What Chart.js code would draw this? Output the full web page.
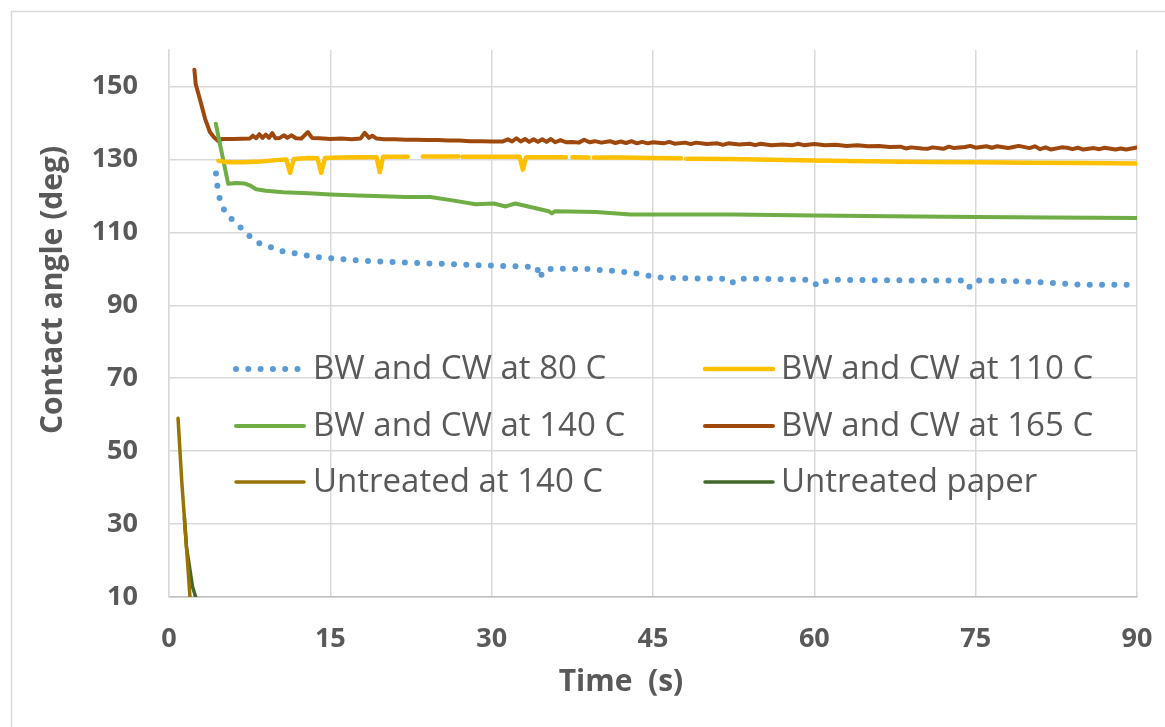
<!DOCTYPE html>
<html>
<head>
<meta charset="utf-8">
<script src="https://cdn.jsdelivr.net/npm/chart.js@4.4.1/dist/chart.umd.min.js"></script>
<style>
  html, body { margin: 0; padding: 0; background: #fff; }
  canvas { display: block; }
</style>
</head>
<body>
<canvas id="angleChart" width="1165" height="727"></canvas>
<script>
// axis ticks
const timeTicks = [0, 15, 30, 45, 60, 75, 90];
const angleTicks = [10, 30, 50, 70, 90, 110, 130, 150];

const seriesNames = [
    'BW and CW at 80 C', 'BW and CW at 110 C',
    'BW and CW at 140 C', 'BW and CW at 165 C',
    'Untreated at 140 C', 'Untreated paper'
];

// BW and CW at 80 C
const t80 = [4.37, 4.5, 4.7, 5.1, 5.8, 6.6, 7.4, 8.3, 9.4, 10.4, 11.6, 12.7, 13.8, 15.0, 17.0, 19.4, 22.0, 24.0, 27.0, 29.6, 32.0, 34.2, 34.5, 34.8, 35.7, 39.1, 41.4, 43.6, 44.7, 45.8, 48.0, 51.5, 52.3, 52.8, 56.0, 59.7, 60.3, 60.6, 61.5, 65.0, 70.0, 74.0, 74.4, 75.0, 78.4, 81.0, 82.9, 84.0, 87.0, 90.0];
const a80 = [126.1, 122.7, 119.4, 116.3, 113.7, 111.5, 109.2, 107.1, 106.0, 104.9, 104.3, 103.7, 103.2, 102.9, 102.4, 102.0, 101.7, 101.5, 101.2, 100.9, 100.7, 100.5, 97.4, 99.6, 100.1, 99.9, 99.4, 98.7, 98.0, 97.6, 97.4, 97.3, 96.0, 97.3, 97.2, 97.0, 95.3, 96.2, 97.0, 96.9, 96.8, 96.8, 95.0, 96.8, 96.6, 96.3, 96.0, 95.7, 95.6, 95.6];

// BW and CW at 110 C (null = missing readings)
const t110 = [4.6, 5.5, 7.0, 8.5, 10.0, 10.9, 11.26, 11.6, 13.0, 13.8, 14.15, 14.5, 16.0, 18.0, 19.3, 19.6, 19.9, 21.0, 22.2, 22.9, 23.6, 25.0, 26.9, 27.1, 27.3, 30.0, 32.6, 32.9, 33.2, 35.0, 36.9, 37.2, 37.5, 39.0, 39.2, 39.5, 42.0, 45.0, 47.6, 47.85, 48.1, 52.0, 56.0, 60.0, 65.0, 70.0, 75.0, 80.0, 85.0, 90.0];
const a110 = [129.6, 129.2, 129.2, 129.4, 129.8, 130.0, 126.3, 130.1, 130.4, 130.3, 126.3, 130.4, 130.5, 130.6, 130.6, 126.5, 130.7, 130.7, 130.7, null, 130.8, 130.8, 130.8, null, 130.7, 130.7, 130.7, 127.2, 130.6, 130.6, 130.6, null, 130.6, 130.5, null, 130.5, 130.5, 130.4, 130.3, null, 130.2, 130.1, 129.9, 129.7, 129.5, 129.3, 129.2, 129.1, 129.0, 128.9];

// BW and CW at 140 C
const t140 = [4.35, 5.5, 6.3, 7.0, 7.5, 8.1, 9.0, 10.6, 13.0, 15.0, 17.5, 19.9, 22.0, 24.3, 26.5, 28.5, 30.2, 31.3, 32.2, 33.5, 35.3, 35.6, 35.9, 39.7, 42.9, 47.0, 52.5, 60.0, 67.0, 75.0, 82.0, 90.0];
const a140 = [139.8, 123.3, 123.5, 123.4, 122.9, 121.8, 121.4, 121.0, 120.7, 120.4, 120.1, 119.9, 119.7, 119.7, 118.7, 117.7, 117.9, 117.1, 117.9, 117.0, 115.8, 115.2, 115.8, 115.6, 114.9, 114.9, 114.9, 114.6, 114.4, 114.2, 114.1, 113.9];

// BW and CW at 165 C
const t165 = [2.36, 2.48, 2.9, 3.35, 3.8, 4.2, 4.6, 4.9, 6.0, 7.5, 7.8, 8.1, 8.4, 8.7, 9.0, 9.3, 9.6, 9.9, 10.3, 10.7, 11.0, 11.4, 11.8, 12.3, 12.9, 13.3, 14.0, 15.0, 16.0, 17.0, 17.8, 18.2, 18.6, 18.9, 19.3, 20.0, 21.0, 22.0, 23.0, 24.0, 25.0, 26.0, 27.0, 28.0, 29.0, 30.0, 31.0, 31.5, 31.9, 32.3, 32.7, 33.1, 33.5, 33.9, 34.3, 34.7, 35.1, 35.5, 35.9, 36.4, 36.9, 37.5, 38.1, 38.6, 39.1, 39.6, 40.2, 41.0, 41.5, 42.0, 42.5, 43.0, 43.5, 44.0, 44.5, 45.0, 46.0, 46.5, 47.0, 48.0, 48.5, 49.0, 50.0, 51.0, 51.5, 52.0, 53.0, 54.0, 54.5, 55.0, 56.0, 57.0, 58.0, 58.5, 59.0, 60.0, 61.0, 62.0, 63.0, 64.0, 65.0, 66.0, 67.0, 68.0, 68.5, 69.0, 70.0, 70.5, 71.0, 72.0, 72.5, 73.0, 74.0, 74.5, 75.0, 76.0, 76.5, 77.0, 78.0, 78.5, 79.0, 80.0, 80.5, 81.0, 81.5, 82.0, 83.0, 83.5, 84.0, 84.5, 85.0, 86.0, 86.5, 87.0, 88.0, 88.5, 89.0, 90.0];
const a165 = [154.6, 150.7, 146.2, 141.2, 137.5, 136.0, 135.0, 135.6, 135.6, 135.7, 136.5, 135.8, 136.9, 135.9, 136.8, 135.9, 137.2, 135.8, 135.9, 136.6, 135.9, 136.6, 135.8, 135.7, 137.5, 135.9, 135.8, 135.6, 135.7, 135.5, 135.7, 137.3, 135.9, 136.5, 135.7, 135.5, 135.5, 135.4, 135.4, 135.3, 135.3, 135.2, 135.2, 135.0, 135.0, 134.9, 134.9, 135.5, 134.9, 135.8, 134.9, 135.6, 134.8, 135.5, 134.8, 135.5, 134.8, 135.6, 134.7, 135.3, 134.7, 134.8, 134.6, 135.4, 134.7, 135.0, 134.6, 135.0, 134.5, 134.9, 134.5, 135.0, 134.4, 134.8, 134.4, 134.7, 134.4, 134.8, 134.3, 134.6, 134.2, 134.6, 134.2, 134.4, 134.0, 134.4, 134.1, 134.3, 133.9, 134.3, 133.9, 134.1, 133.9, 134.3, 133.9, 134.2, 133.9, 134.0, 133.7, 133.9, 133.6, 133.7, 133.4, 133.5, 133.0, 133.3, 133.0, 132.9, 133.3, 132.9, 133.5, 133.1, 133.4, 133.7, 133.2, 133.6, 133.2, 133.6, 133.1, 133.4, 133.7, 133.1, 133.6, 132.8, 133.3, 132.7, 133.3, 133.2, 132.8, 133.2, 132.7, 133.1, 132.8, 133.2, 132.7, 133.0, 132.7, 133.3, 133.0];

// Untreated at 140 C
const tRaw140 = [0.84, 1.18, 1.57, 1.95, 2.0];
const aRaw140 = [59.0, 42.0, 26.0, 10.0, 8.0];

// Untreated paper
const tPaper = [1.43, 1.62, 1.95, 2.19, 2.48, 2.55];
const aPaper = [31.8, 23.8, 17.4, 12.8, 10.0, 9.0];

const colors = ['#5b9bd5', '#ffc000', '#70ad47', '#9e480e', '#997300', '#43682b'];
const textColor = '#595959';
const gridColor = '#d9d9d9';
const fontFamily = "'Open Sans', 'Liberation Sans', sans-serif";

function toPoints(ts, vs) {
    return ts.map((t, i) => ({ x: t, y: vs[i] }));
}

const dotDash = [0, 12.3];

function makeDataset(i, ts, vs, extra) {
    return Object.assign({
        label: seriesNames[i],
        data: toPoints(ts, vs),
        borderColor: colors[i],
        backgroundColor: colors[i],
        borderWidth: 4,
        pointRadius: 0,
        tension: 0,
        spanGaps: false,
        borderCapStyle: 'round',
        borderJoinStyle: 'round',
        clip: 0
    }, extra || {});
}

// draws the page frame, axis titles and the in-plot legend
const decorations = {
    id: 'decorations',
    beforeDraw(chart) {
        const ctx = chart.ctx;
        ctx.save();
        ctx.fillStyle = '#ffffff';
        ctx.fillRect(0, 0, chart.width, chart.height);
        ctx.strokeStyle = gridColor;
        ctx.lineWidth = 1.5;
        ctx.beginPath();
        ctx.moveTo(11.5, chart.height);
        ctx.lineTo(11.5, 11.5);
        ctx.lineTo(chart.width, 11.5);
        ctx.stroke();
        ctx.restore();
    },
    afterDatasetsDraw(chart) {
        const ctx = chart.ctx;
        ctx.save();
        ctx.fillStyle = textColor;

        // axis titles
        ctx.font = "bold 30px " + fontFamily;
        ctx.textAlign = 'center';
        ctx.textBaseline = 'middle';
        ctx.fillText('Time  (s)', 621, 682);
        ctx.save();
        ctx.translate(53, 290);
        ctx.rotate(-Math.PI / 2);
        ctx.fillText('Contact angle (deg)', 0, 0);
        ctx.restore();

        // legend, two columns
        const cols = [{ x0: 236, x1: 304, tx: 313 }, { x0: 705, x1: 773, tx: 781 }];
        const rows = [369, 426, 482];
        ctx.font = "33px " + fontFamily;
        ctx.textAlign = 'left';
        chart.data.datasets.forEach((ds, i) => {
            const c = cols[i % 2];
            const y = rows[Math.floor(i / 2)];
            ctx.save();
            ctx.strokeStyle = ds.borderColor;
            ctx.lineWidth = ds.borderWidth;
            ctx.lineCap = 'round';
            ctx.setLineDash(ds.borderDash || []);
            ctx.beginPath();
            ctx.moveTo(c.x0, y);
            ctx.lineTo(c.x1, y);
            ctx.stroke();
            ctx.restore();
            ctx.fillText(ds.label, c.tx, y + 1);
        });
        ctx.restore();
    }
};

const ctx = document.getElementById('angleChart').getContext('2d');
const angleChart = new Chart(ctx, {
    type: 'line',
    data: {
        datasets: [
            makeDataset(0, t80, a80, { borderWidth: 6, borderDash: dotDash }),
            makeDataset(1, t110, a110, { borderWidth: 4.5 }),
            makeDataset(2, t140, a140),
            makeDataset(3, t165, a165),
            makeDataset(4, tRaw140, aRaw140, { borderWidth: 3.5 }),
            makeDataset(5, tPaper, aPaper, { borderWidth: 3.5 })
        ]
    },
    options: {
        responsive: false,
        animation: false,
        layout: { padding: { left: 0, right: 28, top: 50, bottom: 0 } },
        plugins: {
            legend: { display: false },
            title: { display: false },
            tooltip: { enabled: false }
        },
        scales: {
            x: {
                type: 'linear',
                min: 0,
                max: 90,
                afterBuildTicks: scale => { scale.ticks = timeTicks.map(v => ({ value: v })); },
                afterFit: scale => {
                    scale.height = 130;
                    scale.paddingLeft = 0;
                    scale.paddingRight = 0;
                },
                ticks: {
                    color: textColor,
                    padding: 26,
                    maxRotation: 0,
                    font: { family: fontFamily, size: 27, weight: 'bold' }
                },
                grid: { color: gridColor, lineWidth: 1.5, drawTicks: false },
                border: { color: '#bfbfbf', width: 1.5 }
            },
            y: {
                type: 'linear',
                min: 10,
                max: 160,
                afterBuildTicks: scale => { scale.ticks = angleTicks.map(v => ({ value: v })); },
                afterFit: scale => {
                    scale.width = 169;
                    scale.paddingTop = 0;
                    scale.paddingBottom = 0;
                },
                ticks: {
                    color: textColor,
                    padding: 31,
                    font: { family: fontFamily, size: 27, weight: 'bold' }
                },
                grid: { color: gridColor, lineWidth: 1.5, drawTicks: false },
                border: { color: gridColor, width: 1.5 }
            }
        }
    },
    plugins: [decorations]
});
</script>
</body>
</html>
